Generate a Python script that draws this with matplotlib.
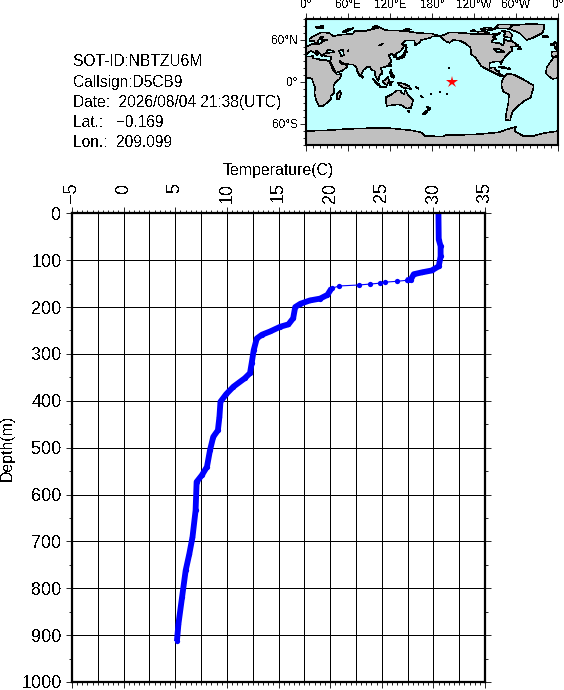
import matplotlib
matplotlib.use("Agg")
import matplotlib.pyplot as plt
from matplotlib.patches import Polygon

plt.rcParams['font.family'] = ['Liberation Sans', 'DejaVu Sans']
plt.rcParams['text.antialiased'] = False

W, H = 564, 690

# ---- profile data ----
temperature = [30.49, 30.52, 30.7, 30.7, 30.52, 29.84, 28.9, 28.1, 27.8, 27.4, 26.5, 25.3, 24.86, 23.85, 22.75,
               20.9, 20.14, 19.74, 19.03, 18.03, 17.12, 16.62, 16.42, 15.96, 15.17, 14.2, 13.4, 12.9,
               12.6, 12.4, 12.24, 11.73, 10.63, 9.93, 9.38, 9.28, 9.13, 8.68, 8.37, 8.07, 7.57, 7.07, 6.97,
               6.67, 6.36, 6.01, 5.66, 5.31, 5.16]
depth = [0, 56, 70, 92, 113, 122, 126, 130, 142, 143, 145, 147, 149, 151, 153,
         155, 160, 174, 182, 186, 193, 200, 224, 237, 242, 252, 259, 267,
         292, 320, 341, 352, 370, 386, 402, 434, 463, 477, 505, 541, 559, 573, 634,
         691, 727, 762, 819, 876, 913]
sparse_top = 9      # index range of the thinly sampled thermocline
sparse_end = 16

x_major = [-5, 0, 5, 10, 15, 20, 25, 30, 35]
x_labels = ['\u22125', '0', '5', '10', '15', '20', '25', '30', '35']
x_grid = [-2.5, 0, 2.5, 5, 7.5, 10, 12.5, 15, 17.5, 20, 22.5, 25, 27.5, 30, 32.5]
y_major = [0, 100, 200, 300, 400, 500, 600, 700, 800, 900, 1000]
info_lines = ['SOT-ID:NBTZU6M', 'Callsign:D5CB9', 'Date:  2026/08/04 21:38(UTC)', 'Lat.:   \u22120.169', 'Lon.:  209.099']
station_lon, station_lat = 209.099, -0.169

# ---- map data (lon 0-360, lat) ----
eurasia = [(0, 39), (3, 42), (7, 44), (12, 42), (16, 38), (18, 40), (14, 45), (19, 42), (23, 37), (26, 40), (27, 37),
           (36, 36), (35, 31), (32.5, 30), (35, 28), (39, 21), (43, 13), (52, 16), (59, 22), (56, 26), (51, 25),
           (48, 30), (52, 27), (57, 26), (62, 25), (67, 25), (72, 21), (73, 16), (77, 8), (80, 13), (82, 17), (87, 21),
           (91, 22), (94, 17), (98, 16), (99, 9), (103.5, 1.5), (105, 10), (109, 12), (108, 18), (106, 20), (110, 21),
           (117, 23), (122, 30), (120, 35), (118, 38), (122, 40), (126, 38), (126, 35), (129, 36), (128, 40), (135, 44),
           (141, 52), (137, 54), (142, 59), (155, 59), (156, 52), (163, 57), (164, 60), (178, 63), (180, 65), (190, 66),
           (180, 69), (160, 70), (140, 73), (113, 74), (105, 78), (85, 73), (70, 73), (67, 69), (45, 67), (40, 65),
           (33, 70), (22, 71), (14, 67), (5, 62), (5, 59), (8, 58), (11, 59), (13, 55.5), (17, 57), (18, 60), (22, 65),
           (25, 65), (21, 61), (23, 60), (30, 60), (23, 58), (21, 55), (14, 54), (9, 54), (8, 54), (4, 52), (0, 50)]
africa_east = [(0, 5.5), (5, 6), (9, 4.5), (9.5, 1), (13, -8), (12, -17), (15, -27), (18.5, -34.5), (25, -34), (33, -27),
               (35.5, -24), (35, -20), (40.5, -15), (39, -6), (42, -1), (48, 4.5), (51, 11.5), (44, 10.5), (43, 12),
               (39, 16), (37, 21), (34, 28), (32.5, 30), (25, 32), (20, 31), (19, 32.5), (10, 34), (10, 37), (0, 36)]
africa_west = [(360, 5.5), (352, 4.5), (347, 8), (343, 12), (343, 15), (344, 21), (350, 30), (354, 35.5), (360, 36)]
iberia = [(360, 39), (359, 37), (354, 36.5), (351, 37), (351, 43), (358, 44), (360, 43)]
france_west = [(360, 50), (358.5, 49), (355, 48), (359, 46), (358, 44), (360, 43)]
north_america = [(190, 66), (192, 65), (196, 61), (200, 58), (205, 56), (210, 60), (220, 59), (228, 55), (235, 49), (236, 40),
                 (243, 34), (250, 23), (255, 20), (265, 15), (275, 10), (278, 8), (283, 8), (276, 12), (276, 16), (272, 16),
                 (269, 21), (262, 20), (262, 27), (270, 29), (277, 29), (279, 25), (280, 30), (284, 35), (290, 42), (295, 45),
                 (293, 50), (304, 52), (296, 57), (293, 60), (290, 58), (282, 62), (283, 57), (281, 52), (278, 55), (265, 57),
                 (265, 59), (272, 62), (266, 64), (274, 68), (278, 70), (265, 68), (245, 68), (225, 70), (205, 71), (197, 67)]
south_america = [(283, 8), (288, 12), (298, 10), (310, 4), (325, -5), (325, -8), (321, -22), (312, -27), (302, -35), (295, -42),
                 (292, -52), (292, -55), (285, -54), (286, -45), (289, -30), (290, -18), (282, -14), (279, -5), (280, 1)]
greenland = [(315, 60), (322, 62), (338, 70), (340, 77), (340, 82), (320, 83), (295, 81), (290, 76), (305, 70), (310, 65)]
australia = [(114, -22), (122, -18), (130, -12), (136, -12), (136, -15), (140, -17), (142, -11), (146, -19), (153, -26),
             (150, -37), (144, -38), (138, -34), (132, -32), (124, -33), (115, -34)]
antarctica = [(0, -70), (30, -69), (60, -67), (90, -66), (120, -66), (150, -69), (165, -72), (170, -77), (195, -78), (200, -76),
              (240, -75), (275, -72), (286, -68), (300, -64), (298, -70), (310, -77), (325, -77), (340, -73), (360, -70),
              (360, -90), (0, -90)]
islands = [
    [(44, -25), (47, -25), (50, -16), (49, -12), (44, -17)],                    # Madagascar
    [(130, 32), (135, 34), (140, 35), (142, 40), (141, 41), (136, 36), (131, 34)],   # Honshu
    [(140, 42), (145, 43), (142, 45)],                                           # Hokkaido
    [(95, 5), (104, -3), (106, -6), (101, -3)],                                  # Sumatra
    [(105, -7), (114, -8), (114, -7), (106, -6)],                                # Java
    [(109, 1), (113, -3), (116, -4), (119, 1), (117, 7), (113, 3)],              # Borneo
    [(119, -5), (121, -5), (122, 0), (125, 1), (120, 1)],                        # Sulawesi
    [(131, -1), (138, -2), (141, -3), (147, -6), (150, -10), (143, -9), (138, -8), (133, -4)],  # New Guinea
    [(120, 14), (122, 18), (122, 14), (126, 8), (125, 6), (122, 8)],             # Philippines
    [(120, 23), (122, 25), (121, 22)],                                           # Taiwan
    [(80, 9), (82, 7), (80.5, 6)],                                               # Sri Lanka
    [(142, 46), (143, 54), (144, 49)],                                           # Sakhalin
    [(145, -41), (148, -41), (147, -44)],                                        # Tasmania
    [(173, -35), (178, -38), (175, -41)],                                        # NZ north
    [(167, -46), (172, -41), (174, -42), (170, -46)],                            # NZ south
    [(355, 51), (359, 51), (358, 55), (355, 58), (354, 54)],                     # Britain
    [(1, 51), (0, 53), (0, 51)],
    [(350, 52), (354, 52), (354, 55), (350, 54)],                                # Ireland
    [(338, 64), (346, 64), (345, 66), (338, 66)],                                # Iceland
    [(275, 22), (281, 22), (286, 20), (280, 20)],                                # Cuba
    [(288, 18), (292, 18), (290, 20)],                                           # Hispaniola
    [(15, 77), (25, 77), (25, 80), (14, 79)],                                    # Svalbard
    [(52, 71), (56, 71), (68, 77), (60, 76)],                                    # Novaya Zemlya
    [(95, 78), (105, 78), (100, 81)],
    [(138, 73), (150, 75), (143, 76)],
    [(280, 73), (290, 72), (295, 67), (293, 63), (282, 65), (285, 70)],          # Baffin
    [(245, 69), (262, 70), (255, 73), (246, 72)],                                # Victoria
    [(235, 72), (243, 72), (240, 75)],                                           # Banks
    [(270, 77), (290, 76), (295, 82), (275, 82)],                                # Ellesmere
    [(250, 76), (265, 74), (270, 76), (258, 78)],
    [(303, 47), (307, 47), (305, 51)],                                           # Newfoundland
    [(204, 19), (205, 20), (204, 20.5)],                                         # Hawaii
    [(166, -22), (167, -22), (164, -20)],                                        # New Caledonia
    [(201, -17), (202, -17), (201.5, -18)],
    [(156, -7), (160, -9), (161, -10)],
    [(191, -14), (192, -14), (191.5, -15)],
    [(178, -18), (179, -18), (178.5, -17)],
]
inland_seas = [
    [(28, 41), (35, 42), (41, 42), (37, 45), (31, 46)],                           # Black Sea
    [(47, 45), (53, 46), (54, 38), (50, 37), (49, 41)],                           # Caspian
    [(59, 44), (61, 46), (61, 44)],                                               # Aral
    [(104, 52), (110, 55), (108, 53)],                                            # Baikal
    [(272, 42), (276, 43), (283, 43), (276, 47), (268, 47), (272, 44)],           # Great Lakes
]

# ---- figure ----
fig = plt.figure(figsize=(W / 100, H / 100), dpi=100)
THIN = 0.6
COAST = 0.4

# main panel
L, R, T, B = 72, 485, 213.3, 682
ax = fig.add_axes([L / W, (H - B) / H, (R - L) / W, (B - T) / H])
ax.set_xlim(-5, 35)
ax.set_ylim(1000, 0)
for v in x_grid:
    ax.axvline(v, color='black', lw=THIN, antialiased=False, zorder=1)
for v in y_major[1:-1]:
    ax.axhline(v, color='black', lw=THIN, antialiased=False, zorder=1)

# thick body where samples overlap, thin link with dots in the sparse part
ax.plot(temperature[:sparse_top + 1], depth[:sparse_top + 1], color='#0000ff', lw=4.2,
        solid_capstyle='butt', solid_joinstyle='round', zorder=3)
ax.plot(temperature[sparse_end:], depth[sparse_end:], color='#0000ff', lw=4.2,
        solid_capstyle='butt', solid_joinstyle='round', zorder=3)
ax.plot(temperature, depth, color='#0000ff', lw=0.8, marker='o', ms=3.8, mew=0, zorder=3)

ax.xaxis.set_ticks_position('both')
ax.yaxis.set_ticks_position('both')
ax.set_xticks(x_major)
ax.set_xticklabels(x_labels, rotation=90, ha='center', va='top', fontsize=13)
ax.set_xticks([v / 2 for v in range(-10, 71)], minor=True)
ax.set_yticks(y_major)
ax.set_yticklabels([str(v) for v in y_major], fontsize=13)
ax.set_yticks([v + 50 for v in y_major[:-1]], minor=True)
ax.tick_params(axis='x', which='major', direction='out', length=4, width=THIN, pad=18.2, top=True, bottom=True, labeltop=True, labelbottom=False)
ax.tick_params(axis='x', which='minor', direction='out', length=2, width=THIN, top=True, bottom=True)
ax.tick_params(axis='y', which='major', direction='out', length=4, width=THIN, pad=3.5, left=True, right=True)
ax.tick_params(axis='y', which='minor', direction='out', length=2, width=THIN, left=True, right=True)
for s in ax.spines.values():
    s.set_linewidth(1.6)
    s.set_zorder(5)

fig.text(278 / W, 1 - 170 / H, 'Temperature(C)', fontsize=11.4, ha='center', va='center')
fig.text(7 / W, 1 - 448 / H, 'Depth(m)', fontsize=11.4, rotation=90, ha='center', va='center')

for txt, base in zip(info_lines, [66, 86.7, 106.7, 126.7, 146.7]):
    fig.text(73 / W, 1 - base / H, txt, fontsize=11.2, ha='left', va='baseline')

# map panel
ML, MR, MT, MB = 306, 558, 19, 145
m = fig.add_axes([ML / W, (H - MB) / H, (MR - ML) / W, (MB - MT) / H])
m.set_xlim(0, 360)
m.set_ylim(-90, 90)
m.set_facecolor('#bfffff')
land = [eurasia, africa_east, africa_west, iberia, france_west, north_america, south_america, greenland, australia, antarctica] + islands
for poly in land:
    m.add_patch(Polygon(poly, closed=True, facecolor='#c0c0c0', edgecolor='black', lw=COAST, antialiased=False, zorder=2))
for poly in inland_seas:
    m.add_patch(Polygon(poly, closed=True, facecolor='#bfffff', edgecolor='black', lw=COAST, antialiased=False, zorder=3))
m.plot([station_lon], [station_lat], marker='*', color='#ff0000', ms=9, mew=0, ls='none', zorder=6)

m.xaxis.set_ticks_position('both')
m.set_xticks([0, 60, 120, 180, 240, 300, 360])
m.set_xticklabels(['0\u00b0', '60\u00b0E', '120\u00b0E', '180\u00b0', '120\u00b0W', '60\u00b0W', '0\u00b0'], fontsize=8.5)
m.set_xticks(range(0, 361, 10), minor=True)
m.set_yticks([-60, 0, 60])
m.set_yticklabels(['60\u00b0S', '0\u00b0', '60\u00b0N'], fontsize=8.5)
m.set_yticks(range(-90, 91, 10), minor=True)
m.tick_params(axis='x', which='major', direction='out', length=4, width=THIN, pad=1.5, top=True, bottom=True, labeltop=True, labelbottom=False)
m.tick_params(axis='x', which='minor', direction='out', length=2, width=THIN, top=True, bottom=True)
m.tick_params(axis='y', which='major', direction='out', length=4, width=THIN, pad=2, left=True, right=False)
m.tick_params(axis='y', which='minor', direction='out', length=2, width=THIN, left=True, right=False)
for s in m.spines.values():
    s.set_linewidth(1.5)
    s.set_zorder(7)

fig.savefig('out.png', dpi=100)
